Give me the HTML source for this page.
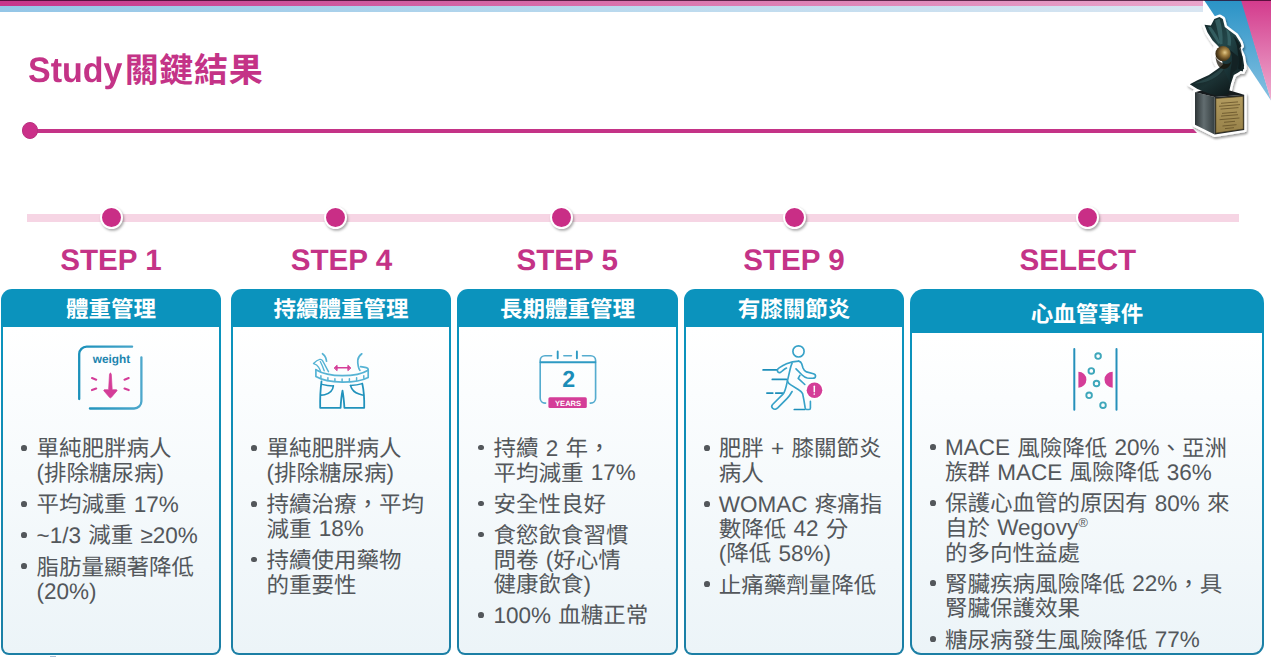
<!DOCTYPE html>
<html lang="zh-Hant"><head><meta charset="utf-8"><title>Study關鍵結果</title>
<style>
html,body{margin:0;padding:0;background:#fff}
body{width:1271px;height:657px;overflow:hidden;font-family:"Liberation Sans","Noto Sans CJK TC",sans-serif;text-rendering:geometricPrecision}
#slide{position:relative;width:1271px;height:657px;overflow:hidden;background:#fff}
#slide *{box-sizing:border-box}
.zh{font-family:"Liberation Sans","Noto Sans CJK TC",sans-serif;white-space:pre}
.la{display:inline-block;line-height:1;white-space:pre;transform:scaleY(1.04);transform-origin:0 .8467em;position:relative;top:-0.5px}
.txt .la{transform:none}
.title .la{top:0}
.title .zh{margin-left:2.2px;letter-spacing:.02em}
.step .la{top:0;transform:none}
.t{font-size:0;line-height:0;color:transparent;word-spacing:0;letter-spacing:0}
.band1{position:absolute;left:0;top:0;width:1203px;height:6px;background:linear-gradient(90deg,#c7358a 0%,#cf5a9f 30%,#d970ab 50%,#e08bbb 75%,#e9a5cb 100%)}
.band2{position:absolute;left:0;top:6px;width:1203px;height:6px;background:linear-gradient(90deg,#94c6e7 0%,#b9d9ee 50%,#d9e6f2 100%)}
.tri{position:absolute;left:1200px;top:0}
.topline{position:absolute;left:0;top:0;width:1271px;height:1px;background:rgba(45,0,32,.72)}
.mark{position:absolute;left:50px;top:656px;width:6px;height:1px;background:#a9bfd4}
.title{position:absolute;color:#c43387;font-weight:bold;line-height:40px;white-space:nowrap;letter-spacing:0px}
.tline{position:absolute;left:30px;top:128.7px;width:1167px;height:4.2px;background:#c43387;clip-path:polygon(0 0,calc(100% - 4px) 0,100% 100%,0 100%)}
.tdot{position:absolute;left:21.9px;top:122.4px;width:16.4px;height:16.4px;border-radius:50%;background:#cb3089;border:1px solid #b9307f}
.bar{position:absolute;left:27.4px;top:214.2px;width:1212px;height:7.5px;background:#f6d5e4}
.dot{position:absolute;width:23px;height:23px;border-radius:50%;background:#c92e86;border:2.5px solid #fff;box-shadow:1.2px 1.8px 2.5px rgba(0,0,0,.32)}
.step{position:absolute;width:200px;text-align:center;color:#c43387;font-weight:bold;font-size:29.6px;line-height:32px;white-space:nowrap}
.card{position:absolute;background:linear-gradient(180deg,#0b93bd 0%,#0b93bd 15%,#1c7fa5 100%);overflow:hidden}
.body{position:absolute;left:2.3px;right:2.3px;bottom:2.3px;background:linear-gradient(180deg,#ffffff 0%,#fbfdfe 20%,#ecf4f8 100%)}
.hd{position:absolute;left:0;top:0;width:100%;text-align:center;color:#fff;font-weight:bold;white-space:nowrap}
.ic{position:absolute}
.txt{position:absolute;color:#53575b;font-size:22.5px;word-spacing:1px}
.txt p{position:relative;margin:0 0 6.6px 0;line-height:24.6px;white-space:nowrap;padding-left:14px}
.txt p::before{content:"";position:absolute;left:var(--bx);top:7.65px;width:5.7px;height:5.7px;border-radius:50%;background:currentColor}
.reg{font-size:.58em;vertical-align:.62em;line-height:0}

</style></head>
<body>
<div id="slide">
<div class="band1"></div><div class="band2"></div>
<svg class="tri" width="71" height="104" viewBox="1200 0 71 104">
<defs>
<linearGradient id="gb" x1="0" y1="0" x2="0" y2="1"><stop offset="0" stop-color="#2a93c6"/><stop offset="1" stop-color="#86c1e2"/></linearGradient>
<linearGradient id="gp" x1="0" y1="0" x2="0" y2="1"><stop offset="0" stop-color="#d33a8c"/><stop offset="1" stop-color="#eeaed0"/></linearGradient>
</defs>
<polygon points="1204,0 1242,0 1271,100.5" fill="url(#gb)"/>
<polygon points="1241,0 1271,0 1271,100.5" fill="url(#gp)"/>
</svg>

<div class="title" style="left:28px;top:50.8px;font-size:34px"><span class="la">Study</span><span class="zh">關鍵結果</span></div>
<div class="tline"></div><div class="tdot"></div>
<div class="bar"></div>
<div class="dot" style="left:99.9px;top:205.5px"></div>
<div class="step" style="left:11px;top:244.7px;font-size:29.6px"><span class="la">STEP 1</span></div>
<div class="dot" style="left:323.79999999999995px;top:205.5px"></div>
<div class="step" style="left:241.5px;top:244.7px;font-size:29.6px"><span class="la">STEP 4</span></div>
<div class="dot" style="left:550.3px;top:205.5px"></div>
<div class="step" style="left:467.20000000000005px;top:244.7px;font-size:29.6px"><span class="la">STEP 5</span></div>
<div class="dot" style="left:783.1999999999999px;top:205.5px"></div>
<div class="step" style="left:694px;top:244.7px;font-size:29.6px"><span class="la">STEP 9</span></div>
<div class="dot" style="left:1076.1000000000001px;top:205.5px"></div>
<div class="step" style="left:977.8px;top:245.4px;font-size:29.6px"><span class="la">SELECT</span></div>
<div class="card" style="left:1px;top:289px;width:220px;height:366px;border-radius:11px 11px 8px 8px">
<div class="body" style="top:38px;border-radius:0 0 6px 6px"></div>
<div class="hd" style="height:38px;line-height:38px;font-size:22.5px;padding-top:2.4px;left:0px"><span class="zh">體重管理</span></div>
<svg class="ic" style="left:69px;top:51px" width="80" height="80" viewBox="70 340 80 80" fill="none" stroke-linecap="round" stroke-linejoin="round">
<defs><linearGradient id="gw" gradientUnits="userSpaceOnUse" x1="78" y1="0" x2="143" y2="0"><stop offset="0" stop-color="#1a90ba"/><stop offset="1" stop-color="#4ea8cc"/></linearGradient></defs>
<path d="M132.1 346.7H86.6a7.4 7.4 0 0 0-7.4 7.4V399" stroke="url(#gw)" stroke-width="2.3"/>
<path d="M141.4 357.3V401.2a7.3 7.3 0 0 1-7.3 7.3H89.9" stroke="url(#gw)" stroke-width="2.3"/>
<text x="111.4" y="362.6" text-anchor="middle" font-family="Liberation Sans, sans-serif" font-weight="bold" font-size="11.8" fill="#1b84ae" stroke="none">weight</text>
<g stroke="#d43d98" stroke-width="2.1"><path d="M92 378.100l4.200 1.600M92 390.100l4.200-1.500M128.700 378.100l-4.200 1.600M128.700 390.100l-4.200-1.500"/></g>
<path d="M110.400 373.300c.600 0 .800 .400 .900 1l.900 15.400h4c.900 0 1.100 .700 .600 1.300l-5.600 6.500c-.500 .500-1.100 .500-1.600 0l-5.600-6.500c-.500-.600-.300-1.300 .600-1.300h4l.900-15.400c.100-.600 .300-1 .900-1z" fill="#d43d98" stroke="#d43d98" stroke-width=".7"/>
</svg>

<div class="txt" style="left:21.5px;top:148.4px;--bx:-1.15px">
<p><span class="t">• </span><span class="zh">單純肥胖病人</span><br><span class="la">(</span><span class="zh">排除糖尿病</span><span class="la">)</span></p>
<p><span class="t">• </span><span class="zh">平均減重</span><span class="la"> 17%</span></p>
<p><span class="t">• </span><span class="la">~1/3 </span><span class="zh">減重</span><span class="la"> ≥20%</span></p>
<p><span class="t">• </span><span class="zh">脂肪量顯著降低</span><br><span class="la">(20%)</span></p>
</div></div>
<div class="card" style="left:231px;top:289px;width:220px;height:366px;border-radius:11px 11px 8px 8px">
<div class="body" style="top:38px;border-radius:0 0 6px 6px"></div>
<div class="hd" style="height:38px;line-height:38px;font-size:22.5px;padding-top:2.4px;left:0px"><span class="zh">持續體重管理</span></div>
<svg class="ic" style="left:69px;top:51px" width="80" height="80" viewBox="300 340 80 80" fill="none" stroke-linecap="round" stroke-linejoin="round">
<g stroke="#56b3d4" stroke-width="1.700">
<path d="M322.500 353.700c1.700 1.200 2.700 2.500 3.200 4 .4 1.200 .7 2.300 .8 3.500"/>
<path d="M361.800 353.800c-2.500 1.900-3.800 4.200-4 6.400-.2 2.200 0 4.200 .5 6.100 .3 1.500 .8 2.900 1.600 4.100"/>
<path d="M315.900 369.600v7c6 3.600 15.400 5.500 26.600 5.500 11 0 19.800-1.600 25.700-4.700v-7.400c0-1.400-.5-2.100-2-2.400-1.800-.4-3.600-.7-5.600-1"/>
<path d="M315.900 369.700c6.200 3.800 15.500 5.900 26.600 5.900 10.900 0 19.800-1.800 25.600-5.400"/>
<path d="M320.900 375.700v2.600M327.900 377.700v2.700M334.900 378.700v2.800M342.100 379v2.900M349.400 378.700v2.800M356.600 377.700v2.700M363.800 375.700v2.600" stroke-width="1.500"/>
<path d="M313.500 363.400c2.200-2.200 4.400-3.600 6.300-4 1.300-.2 2.100 .2 2.700 1.200 2.100 3.500 3.700 7 6 11.100M313.600 363.600c2.400 .6 4 1.800 5.100 3.700 .8 1.300 1.400 2.600 1.800 3.800M320.300 361.500c1.500 2.900 2.800 6 3.900 9.300" stroke-width="1.400"/>
</g>
<g stroke="#2192bc" stroke-width="1.800">
<path d="M321.500 381.300c-1.100 8-1.500 16.600-1.300 26.500h20.400c.3-6.500 .9-12.300 1.900-17.100 .9 4.800 1.500 10.600 1.900 17.100h19.800c.2-9-.3-17-1.900-24.200"/>
<path d="M322 384.400c3.500 1 7 1.500 11.400 1.500M350.500 385.500c4.400-.2 8.300-.8 11.800-1.900" stroke-width="1.500"/>
<path d="M333.400 385.900c-.6 5-3.500 7.600-8.700 8.800-1.200 .3-2.300 .4-3.400 .4M350.500 385.500c1.300 4.600 4.400 7.300 8.600 8.600 1.500 .5 2.900 .9 4.300 1.100" stroke-width="1.600"/>
</g>
<path d="M336.500 367.800h12" stroke="#d43d98" stroke-width="1.600"/>
<path d="M334.400 367.800l2.700-2.500v5zM350.600 367.800l-2.700-2.500v5z" fill="#d43d98" stroke="#d43d98" stroke-width="1"/>
</svg>

<div class="txt" style="left:21.5px;top:148.4px;--bx:-1.15px">
<p><span class="t">• </span><span class="zh">單純肥胖病人</span><br><span class="la">(</span><span class="zh">排除糖尿病</span><span class="la">)</span></p>
<p><span class="t">• </span><span class="zh">持續治療，平均</span><br><span class="zh">減重</span><span class="la"> 18%</span></p>
<p><span class="t">• </span><span class="zh">持續使用藥物</span><br><span class="zh">的重要性</span></p>
</div></div>
<div class="card" style="left:457px;top:289px;width:221px;height:366px;border-radius:11px 11px 8px 8px">
<div class="body" style="top:38px;border-radius:0 0 6px 6px"></div>
<div class="hd" style="height:38px;line-height:38px;font-size:22.5px;padding-top:2.4px;left:0px"><span class="zh">長期體重管理</span></div>
<svg class="ic" style="left:69px;top:51px" width="90" height="80" viewBox="526 340 90 80" fill="none" stroke-linecap="round" stroke-linejoin="round">
<g stroke="#55accf" stroke-width="1.650">
<path d="M551.6 355.7H545a4.800 4.800 0 0 0-4.800 4.800V398.300a4.800 4.800 0 0 0 4.800 4.800h.6"/>
<path d="M563.9 355.7h7.500"/>
<path d="M582.5 355.700h8.300a4.800 4.800 0 0 1 4.800 4.800V398.300a4.800 4.800 0 0 1-4.800 4.800h-.6"/>
</g>
<g stroke="#2e9ac3" stroke-width="1.900"><path d="M557.7 351.500v6.800M576.900 351.500v6.800M540.500 362.300h54.800"/></g>
<text x="568.7" y="387.300" text-anchor="middle" font-family="Liberation Sans, sans-serif" font-weight="bold" font-size="23.200" fill="#1b8db8">2</text>
<rect x="548.400" y="397.200" width="38.400" height="10.700" rx="1.500" fill="#d43d98"/>
<text x="568.100" y="405.500" text-anchor="middle" font-family="Liberation Sans, sans-serif" font-weight="bold" font-size="7.600" fill="#fff">YEARS</text>
</svg>

<div class="txt" style="left:22.4px;top:148.1px;--bx:-1.05px">
<p><span class="t">• </span><span class="zh">持續</span><span class="la"> 2 </span><span class="zh">年，</span><br><span class="zh">平均減重</span><span class="la"> 17%</span></p>
<p><span class="t">• </span><span class="zh">安全性良好</span></p>
<p><span class="t">• </span><span class="zh">食慾飲食習慣</span><br><span class="zh">問卷</span><span class="la"> (</span><span class="zh">好心情</span><br><span class="zh">健康飲食</span><span class="la">)</span></p>
<p><span class="t">• </span><span class="la">100% </span><span class="zh">血糖正常</span></p>
</div></div>
<div class="card" style="left:684px;top:289px;width:220px;height:366px;border-radius:11px 11px 8px 8px">
<div class="body" style="top:38px;border-radius:0 0 6px 6px"></div>
<div class="hd" style="height:38px;line-height:38px;font-size:22.5px;padding-top:2.4px;left:0px"><span class="zh">有膝關節炎</span></div>
<svg class="ic" style="left:66px;top:51px" width="90" height="80" viewBox="750 340 90 80" fill="none" stroke-linecap="round" stroke-linejoin="round">
<g stroke="#1d8eb9" stroke-width="1.700"><path d="M763.100 369.900h13.700M772.300 379.400h14.200M766.900 393.100h5.900M775.700 393.100h6.900M794.300 409.500h10.400"/></g>
<g stroke="#37a2c8" stroke-width="1.650">
<circle cx="798.500" cy="351.400" r="5.600"/>
<path d="M798.600 361.100c-4 0-8 .8-12.100 2.600-2.600 1.200-5 2.600-7 3.900-1.500 1-2.600 1.800-2.100 3.300 .4 1.200 1.600 1.900 3 1.500 .900-.3 1.700-1.300 2.600-2.100 1.100-.9 2.300-1.700 3.500-2.300"/>
<path d="M792.100 363.200c-1 2.100-1.600 4.300-2.100 6.600l-1.800 7.800-.8 3.400c-.6 2.900-1.200 6-2.200 8.700-.5 1.600-1.200 3.200-2.200 4.400l-10.400 10.400c-1.100 1.200-1.100 2.600-.1 3.600 1 .900 2.300 1.400 3.500 .9 .8-.3 1.400-.8 2-1.300l9.400-9.600c1.900-2 3.400-4.300 4.700-6.600"/>
<path d="M798.600 361.100c1.600 .4 2.600 1.300 3.100 2.600l1.300 4.300c.6 1.800 1.900 3.100 3.500 3.900l6.900 1.800c1.500 .4 2.300 1.300 2.100 2.600-.2 1.300-1.100 1.900-2.500 1.900-2 .1-4.200 0-5.700-.2-2-.4-3.700-1.500-5.200-3l-6.100-6.200"/>
<path d="M799.900 375.400l-1.700 3 6.600 6.100"/>
<path d="M787.400 381c.6 1.600 1.800 2.900 3.400 3.900l7.800 4.800c1.900 1.100 3.300 2.400 4 3.900l1.300 6.500 1.300 7.900c.2 1 .6 1.500 1.400 1.500h2.600c.8 0 1.200-.5 1.200-1.500v-6.600"/>
</g>
<circle cx="814.500" cy="390.200" r="9.600" fill="#fff" opacity=".9"/>
<circle cx="814.500" cy="390.200" r="7.800" fill="#d43d98"/>
<path d="M814.300 386.300v5.400" stroke="#fff" stroke-width="1.500"/><circle cx="814.300" cy="394" r=".85" fill="#fff"/>
</svg>

<div class="txt" style="left:20.8px;top:148.4px;--bx:-0.45px">
<p><span class="t">• </span><span class="zh">肥胖</span><span class="la"> + </span><span class="zh">膝關節炎</span><br><span class="zh">病人</span></p>
<p><span class="t">• </span><span class="la">WOMAC </span><span class="zh">疼痛指</span><br><span class="zh">數降低</span><span class="la"> 42 </span><span class="zh">分</span><br><span class="la">(</span><span class="zh">降低</span><span class="la"> 58%)</span></p>
<p><span class="t">• </span><span class="zh">止痛藥劑量降低</span></p>
</div></div>
<div class="card" style="left:910px;top:289px;width:354px;height:366px;border-radius:14px 14px 11px 11px">
<div class="body" style="top:44px;border-radius:0 0 9px 9px"></div>
<div class="hd" style="height:44px;line-height:44px;font-size:22.5px;padding-top:3.9px;left:0px"><span class="zh">心血管事件</span></div>
<svg class="ic" style="left:140px;top:51px" width="80" height="80" viewBox="1050 340 80 80" fill="none" stroke-linecap="round">
<path d="M1074.300 349V409.800M1116.500 349V409.800" stroke="#2590bb" stroke-width="2"/>
<path d="M1078.400 371.700a8 8 0 0 1 0 16zM1112.700 371.700a8.200 8 0 0 0 0 16z" fill="#d43d98"/>
<g stroke="#3fa7bb" stroke-width="1.900"><circle cx="1098.100" cy="356.100" r="2.800"/><circle cx="1091.300" cy="370.900" r="2.800"/><circle cx="1096.500" cy="383.500" r="2.800"/><circle cx="1089.100" cy="395.300" r="2.800"/><circle cx="1103" cy="405.200" r="2.800"/></g>
</svg>

<div class="txt" style="left:21.0px;top:147.6px;--bx:-0.65px">
<p><span class="t">• </span><span class="la">MACE </span><span class="zh">風險降低</span><span class="la"> 20%</span><span class="zh">、亞洲</span><br><span class="zh">族群</span><span class="la"> MACE </span><span class="zh">風險降低</span><span class="la"> 36%</span></p>
<p><span class="t">• </span><span class="zh">保護心血管的原因有</span><span class="la"> 80% </span><span class="zh">來</span><br><span class="zh">自於</span><span class="la"> Wegovy<sup class="reg">®</sup></span><br><span class="zh">的多向性益處</span></p>
<p><span class="t">• </span><span class="zh">腎臟疾病風險降低</span><span class="la"> 22%</span><span class="zh">，具</span><br><span class="zh">腎臟保護效果</span></p>
<p><span class="t">• </span><span class="zh">糖尿病發生風險降低</span><span class="la"> 77%</span></p>
</div></div>
<svg class="trophy" style="position:absolute;left:1180px;top:8px" width="80" height="135" viewBox="1180 8 80 135">
<defs>
<filter id="ts" x="-20%" y="-10%" width="140%" height="125%"><feGaussianBlur in="SourceAlpha" stdDeviation="1.300"/><feOffset dx=".8" dy="1.600"/><feComponentTransfer><feFuncA type="linear" slope=".38"/></feComponentTransfer><feMerge><feMergeNode/><feMergeNode in="SourceGraphic"/></feMerge></filter>
<radialGradient id="tb" cx=".62" cy=".42" r=".65"><stop offset="0" stop-color="#e2c98a"/><stop offset=".3" stop-color="#a98747"/><stop offset=".7" stop-color="#5e4620"/><stop offset="1" stop-color="#2e2310"/></radialGradient>
<linearGradient id="tw" x1="0" y1="0" x2="1" y2="1"><stop offset="0" stop-color="#14292b"/><stop offset=".45" stop-color="#234649"/><stop offset="1" stop-color="#0d1a1c"/></linearGradient>
<linearGradient id="tl" x1="0" y1="0" x2="1" y2="0"><stop offset="0" stop-color="#2c3436"/><stop offset=".45" stop-color="#626d70"/><stop offset="1" stop-color="#353e40"/></linearGradient>
<linearGradient id="tp" x1="0" y1="0" x2="0" y2="1"><stop offset="0" stop-color="#b39c60"/><stop offset="1" stop-color="#978149"/></linearGradient>
<linearGradient id="tlo" x1="0" y1="0" x2="1" y2="1"><stop offset="0" stop-color="#0e1819"/><stop offset=".5" stop-color="#1b3133"/><stop offset="1" stop-color="#080e0f"/></linearGradient>
</defs>
<g filter="url(#ts)" fill="#fff" stroke="#fff" stroke-width="5" stroke-linejoin="round">
<path d="M1204.500 24.800L1210.900 25.400 1214.300 19 1219.500 17 1222.800 19 1224.800 27.100 1230 31.100 1235.700 35.200 1240.400 42.700 1241.500 46.200 1239 48.500 1242.700 56.600 1244.100 65.800 1242.700 71.400 1236.900 69.300 1232.300 72.800 1230.500 84 1220 70 1214.900 60 1214.700 54.300 1216.300 45.600 1212.600 40.400 1207.400 32.300Z"/>
<path d="M1189.800 84.200L1197.400 80.200 1208.900 75 1218.200 68.600 1226.300 62 1234 60 1242.500 64 1244.200 68.600 1237.800 72.700 1233.800 75 1230.900 83.700 1228.600 94 1218.200 96 1208.900 93.500 1197.400 88.900Z"/>
<path d="M1195 92.300L1214.700 97 1244.200 94.700 1244.200 129.900 1214.700 134.600 1195 124.700Z"/>
</g>
<path d="M1195 92.300L1214.700 97 1214.700 134.600 1195 124.700Z" fill="url(#tl)"/>
<path d="M1214.700 97L1244.200 94.700 1244.200 129.900 1214.700 134.600Z" fill="#23282a"/>
<path d="M1195 92.300L1214.700 97 1244.200 94.700 1229.700 90.400 1210 88Z" fill="#161b1d"/>
<path d="M1215.900 98.500L1243.100 96.400 1243.300 129 1215.900 133.100Z" fill="url(#tp)" stroke="#4a3c1c" stroke-width=".6"/>
<g stroke="#5d4b24" stroke-width=".9" opacity=".8"><path d="M1221 103.300l17-1.400M1219 106.300l21-1.700M1220.500 109.100l18-1.500M1222 113.400l15-1.300M1221 116.100l17-1.400M1219.500 119.700l20-1.700M1224 122.300l11-1M1222.500 126l14-1.300M1225 128.600l9-.9"/></g>
<path d="M1189.800 84.200L1197.400 80.200 1208.900 75 1218.200 68.600 1226.300 62 1234 60 1242.500 64 1244.200 68.600 1237.800 72.700 1233.800 75 1230.900 83.700 1228.600 94 1218.200 96 1208.900 93.500 1197.400 88.900Z" fill="url(#tlo)"/>
<path d="M1194 83.500c8-2.500 17-7 24-12.500 3-2.500 6-5 8.500-7.500-1.500 5-5 9.500-10 13-6.500 4.500-14.500 7-22.500 7z" fill="#35585a" opacity=".55"/>
<path d="M1204.500 24.800L1210.900 25.400 1214.300 19 1219.500 17 1222.800 19 1224.800 27.100 1230 31.100 1235.700 35.200 1240.400 42.700 1241.500 46.200 1239 48.500 1242.700 56.600 1244.100 65.800 1242.700 71.400 1236.900 69.300 1232.300 72.800 1230.500 84 1224 70 1219 47 1212.600 40.400 1207.400 32.300Z" fill="url(#tw)"/>
<path d="M1215 20.500c2 7 3.500 15 5 24l2.500-.5c.5-9-.5-17.500-3-25.500zM1208 27c3 6 6.500 11.500 10.500 17l1.500-1c-2-6-5.500-11.500-9-16zM1226 29c1.500 5 2 10.500 1.500 16l3 1c1.500-5.500 0-11.500-2-15.500z" fill="#3d6c6f" opacity=".7"/>
<path d="M1233 36c2.500 4 4 8.500 4.500 13.500 1 7 1.500 13.500 .5 19l2.500 1c2-6.500 2-13.500 .5-20.500-1-5-3.500-9.500-8-13z" fill="#0e1a1b" opacity=".8"/>
<circle cx="1223" cy="53.700" r="7.600" fill="url(#tb)"/>
<path d="M1215.500 57c2.500 4 6 6.500 10 7 3 .3 5-1 6-3-1 4.500-3.500 7.500-7.500 8-4 .3-7.500-4-8.500-12z" fill="#1a1408" opacity=".75"/>
<path d="M1230 50c2 4 2.500 9 1.500 14.500-.8 5-2 10-1 19.500l2-11.200 4.500-3.500 2-12z" fill="#132224"/>
</svg>

<div class="topline"></div><div class="mark"></div>
</div>
</body></html>
